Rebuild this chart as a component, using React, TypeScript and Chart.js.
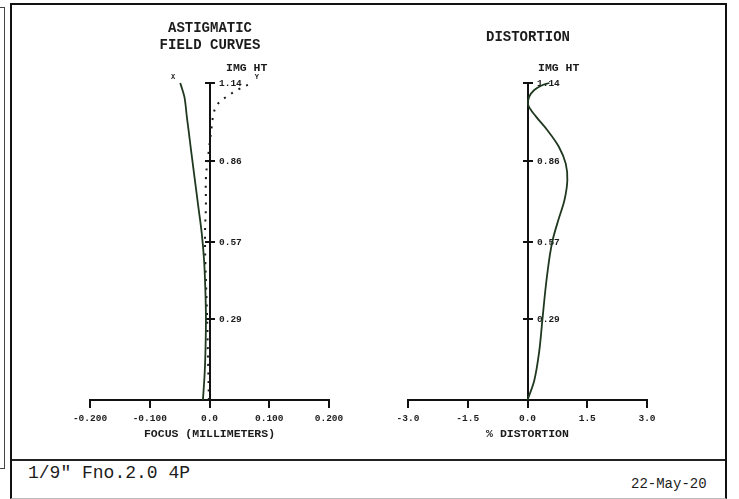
import React, { useEffect, useRef } from 'react';
import { Chart, registerables } from 'chart.js';

Chart.register(...registerables);

const MONO = '"Liberation Mono", "Courier New", "DejaVu Sans Mono", monospace';
const TEXT = '#1c1c1c';
const AXIS = '#111111';
const CURVE = '#1f381f';

// Image height (vertical) axis, shared by both plots
const IMG_HT_MAX = 1.14;
const IMG_HT_TICKS = [0.29, 0.57, 0.86, 1.14];
const IMG_HT_TICK_LABELS = ['0.29', '0.57', '0.86', '1.14'];

// Astigmatic field curves
const FOCUS_TICKS = [-0.2, -0.1, 0, 0.1, 0.2];
const FOCUS_TICK_LABELS = ['-0.200', '-0.100', '0.0', '0.100', '0.200'];
const FIELD_HT = [0, 0.1, 0.2, 0.3, 0.4, 0.5, 0.6, 0.7, 0.8, 0.9, 0.97, 1.02, 1.06, 1.09, 1.12, 1.14];
const FOCUS_X = [-0.011, -0.008, -0.0065, -0.006, -0.007, -0.009, -0.013, -0.019, -0.025, -0.031, -0.035, -0.038, -0.04, -0.042, -0.046, -0.049];
const FOCUS_Y = [-0.001, -0.002, -0.003, -0.004, -0.0055, -0.007, -0.0075, -0.006, -0.006, -0.001, 0.003, 0.006, 0.012, 0.028, 0.051, 0.071];

// Distortion
const DIST_TICKS = [-3, -1.5, 0, 1.5, 3];
const DIST_TICK_LABELS = ['-3.0', '-1.5', '0.0', '1.5', '3.0'];
const DIST_HT = [0, 0.07, 0.17, 0.29, 0.41, 0.52, 0.58, 0.65, 0.72, 0.79, 0.85, 0.91, 0.97, 1.02, 1.06, 1.09, 1.115, 1.133, 1.14];
const DIST_PCT = [0, 0.17, 0.29, 0.375, 0.46, 0.56, 0.64, 0.78, 0.93, 1.0, 0.96, 0.79, 0.5, 0.21, 0.02, 0.04, 0.17, 0.38, 0.55];

const FOOTER_LEFT = '1/9" Fno.2.0 4P';
const FOOTER_RIGHT = '22-May-20';

const opticsAxisPlugin = {
  id: 'opticsAxis',
  beforeDatasetsDraw(chart: any, _args: any, opts: any) {
    const { ctx } = chart;
    const xs = chart.scales.x;
    const ys = chart.scales.y;
    const x0 = Math.round(xs.getPixelForValue(0));
    const yb = ys.getPixelForValue(0);
    const yt = ys.getPixelForValue(IMG_HT_MAX);
    ctx.save();
    ctx.strokeStyle = AXIS;
    ctx.lineWidth = 2;
    ctx.beginPath();
    ctx.moveTo(x0, yb);
    ctx.lineTo(x0, yt);
    ctx.stroke();
    ctx.fillStyle = TEXT;
    ctx.textAlign = 'left';
    ctx.textBaseline = 'middle';
    ctx.font = `bold 9.5px ${MONO}`;
    IMG_HT_TICKS.forEach((v, i) => {
      const py = Math.round(ys.getPixelForValue(v));
      ctx.beginPath();
      ctx.moveTo(x0 - 5, py);
      ctx.lineTo(x0 + 5, py);
      ctx.stroke();
      ctx.fillText(IMG_HT_TICK_LABELS[i], x0 + 9, py + 0.5);
    });
    ctx.font = `bold 11.5px ${MONO}`;
    ctx.fillText('IMG HT', x0 + opts.imgHtDx, yt - 15);
    ctx.textAlign = 'center';
    ctx.font = `bold 14px ${MONO}`;
    const lines: string[] = opts.titleLines || [];
    const offs: number[] = opts.titleOffsets || [];
    lines.forEach((t, i) => ctx.fillText(t, x0, yt + offs[i]));
    ctx.restore();
  },
  afterDatasetsDraw(chart: any, _args: any, opts: any) {
    const labels = opts.curveLabels || [];
    const { ctx } = chart;
    ctx.save();
    ctx.fillStyle = TEXT;
    ctx.textAlign = 'center';
    ctx.textBaseline = 'middle';
    ctx.font = `bold 7px ${MONO}`;
    labels.forEach((l: any) => {
      const meta = chart.getDatasetMeta(l.dataset);
      const pt = meta.data[meta.data.length - 1];
      if (pt) ctx.fillText(l.text, pt.x + l.dx, pt.y + l.dy);
    });
    ctx.restore();
  },
};

type PlotProps = {
  left: number;
  top: number;
  width: number;
  height: number;
  padding: { left: number; right: number; top: number; bottom: number };
  xMin: number;
  xMax: number;
  xTicks: number[];
  xTickLabels: string[];
  xTitle: string;
  datasets: any[];
  axisOpts: any;
};

function Plot(p: PlotProps) {
  const ref = useRef<HTMLCanvasElement | null>(null);
  useEffect(() => {
    if (!ref.current) return;
    const chart = new Chart(ref.current, {
      type: 'scatter',
      data: { datasets: p.datasets },
      options: {
        responsive: false,
        animation: false,
        events: [],
        devicePixelRatio: 1,
        layout: { padding: p.padding },
        plugins: {
          legend: { display: false },
          tooltip: { enabled: false },
          opticsAxis: p.axisOpts,
        } as any,
        scales: {
          x: {
            type: 'linear',
            position: 'bottom',
            min: p.xMin,
            max: p.xMax,
            afterBuildTicks: (s: any) => {
              s.ticks = p.xTicks.map((v) => ({ value: v }));
            },
            afterFit: (s: any) => {
              s.height = 45;
            },
            ticks: {
              autoSkip: false,
              maxRotation: 0,
              minRotation: 0,
              padding: 5,
              color: TEXT,
              font: { family: MONO, size: 9.5, weight: 'bold' },
              callback: (_v: any, i: number) => p.xTickLabels[i],
            },
            grid: {
              drawOnChartArea: false,
              drawTicks: true,
              tickLength: 8,
              color: AXIS,
              lineWidth: 2,
            },
            border: { display: true, color: AXIS, width: 2 },
            title: {
              display: true,
              text: p.xTitle,
              color: TEXT,
              font: { family: MONO, size: 11.5, weight: 'bold' },
              padding: { top: 4, bottom: 4 },
            },
          },
          y: { type: 'linear', min: 0, max: IMG_HT_MAX, display: false },
        },
      } as any,
      plugins: [opticsAxisPlugin as any],
    });
    return () => chart.destroy();
  }, []);
  return (
    <canvas
      ref={ref}
      width={p.width}
      height={p.height}
      style={{ position: 'absolute', left: p.left, top: p.top, width: p.width, height: p.height }}
    />
  );
}

export default function App() {
  const fieldDatasets = [
    {
      label: 'X',
      data: FIELD_HT.map((h, i) => ({ x: FOCUS_X[i], y: h })),
      showLine: true,
      borderColor: CURVE,
      borderWidth: 1.8,
      pointRadius: 0,
      tension: 0.35,
      fill: false,
      clip: false,
    },
    {
      label: 'Y',
      data: FIELD_HT.map((h, i) => ({ x: FOCUS_Y[i], y: h })),
      showLine: true,
      borderColor: '#1a1a1a',
      borderWidth: 2,
      borderDash: [2, 6.5],
      pointRadius: 0,
      tension: 0.35,
      fill: false,
      clip: false,
    },
  ];
  const distDatasets = [
    {
      label: 'Distortion',
      data: DIST_HT.map((h, i) => ({ x: DIST_PCT[i], y: h })),
      showLine: true,
      borderColor: CURVE,
      borderWidth: 1.8,
      pointRadius: 0,
      tension: 0.35,
      fill: false,
      clip: false,
    },
  ];

  return (
    <div
      style={{
        position: 'absolute',
        left: 0,
        top: 0,
        width: 739,
        height: 499,
        background: '#ffffff',
        overflow: 'hidden',
      }}
    >
      {/* neighbouring frame on the far left */}
      <div
        style={{
          position: 'absolute',
          left: -10,
          top: 7,
          width: 15,
          height: 462,
          boxSizing: 'border-box',
          border: '1px solid #444',
        }}
      />
      {/* main frame */}
      <div
        style={{
          position: 'absolute',
          left: 10,
          top: 3,
          width: 717,
          height: 496,
          boxSizing: 'border-box',
          borderTop: '2px solid #111',
          borderLeft: '2px solid #111',
          borderRight: '2px solid #111',
          borderBottom: '1px solid #bbb',
        }}
      />
      {/* footer divider */}
      <div
        style={{
          position: 'absolute',
          left: 12,
          top: 459,
          width: 713,
          height: 2,
          background: '#222',
        }}
      />
      <Plot
        left={20}
        top={10}
        width={340}
        height={445}
        padding={{ left: 70, right: 31, top: 73, bottom: 10 }}
        xMin={-0.2}
        xMax={0.2}
        xTicks={FOCUS_TICKS}
        xTickLabels={FOCUS_TICK_LABELS}
        xTitle="FOCUS (MILLIMETERS)"
        datasets={fieldDatasets}
        axisOpts={{
          imgHtDx: 16,
          titleLines: ['ASTIGMATIC', 'FIELD CURVES'],
          titleOffsets: [-55, -38],
          curveLabels: [
            { dataset: 0, text: 'X', dx: -7, dy: -6 },
            { dataset: 1, text: 'Y', dx: 5, dy: -6 },
          ],
        }}
      />
      <Plot
        left={380}
        top={10}
        width={340}
        height={445}
        padding={{ left: 28, right: 73, top: 73, bottom: 10 }}
        xMin={-3}
        xMax={3}
        xTicks={DIST_TICKS}
        xTickLabels={DIST_TICK_LABELS}
        xTitle="% DISTORTION"
        datasets={distDatasets}
        axisOpts={{
          imgHtDx: 10,
          titleLines: ['DISTORTION'],
          titleOffsets: [-46],
          curveLabels: [],
        }}
      />
      <div
        style={{
          position: 'absolute',
          left: 28,
          top: 463,
          fontFamily: MONO,
          fontSize: 18,
          lineHeight: '20px',
          color: TEXT,
          whiteSpace: 'pre',
        }}
      >
        {FOOTER_LEFT}
      </div>
      <div
        style={{
          position: 'absolute',
          left: 631,
          top: 475.5,
          fontFamily: MONO,
          fontSize: 14,
          lineHeight: '16px',
          color: TEXT,
          whiteSpace: 'pre',
        }}
      >
        {FOOTER_RIGHT}
      </div>
    </div>
  );
}
